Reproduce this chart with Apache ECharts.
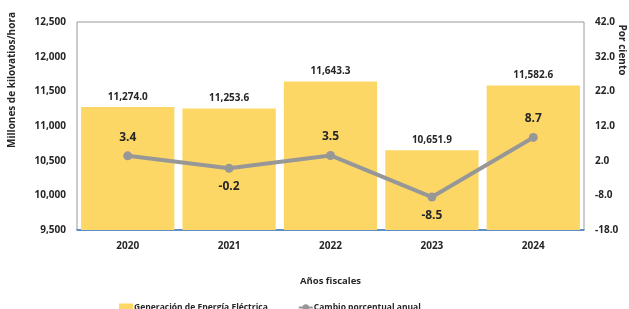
<!DOCTYPE html>
<html>
<head>
<meta charset="utf-8">
<script src="https://cdn.jsdelivr.net/npm/echarts@6/dist/echarts.min.js"></script>
<style>
  html, body { margin: 0; padding: 0; background: #fff; }
  #chart { width: 629px; height: 309px; }
</style>
</head>
<body>
<div id="chart"></div>
<script>
// datos
var years = ['2020', '2021', '2022', '2023', '2024']
var generacion = [11274.0, 11253.6, 11643.3, 10651.9, 11582.6]
var cambio = [3.4, -0.2, 3.5, -8.5, 8.7]
var cambioPos = ['top', 'bottom', 'top', 'bottom', 'top']   // donde va la etiqueta

var fuente = '"Open Sans", sans-serif'
var oscuro = '#262626'

var myChart = echarts.init(document.getElementById('chart'))

function fmtMiles(v) {
    return v.toLocaleString('en-US', {minimumFractionDigits: 1, maximumFractionDigits: 1})
}

option = {
    animation: false,
    textStyle: {fontFamily: fuente},
    grid: {
        left: 77,
        right: 45,
        top: 22,
        bottom: 79,
        show: true,
        borderColor: '#9a9a9a',
        borderWidth: 1
    },
    legend: {
        bottom: -8,
        left: 114,
        itemGap: 30,
        itemWidth: 14,
        itemHeight: 8,
        textStyle: {fontSize: 8.5, fontWeight: 'bold', color: oscuro, fontFamily: fuente, padding: [0, 0, 0, -4]},
        data: [
            {name: 'Generación de Energía Eléctrica', icon: 'rect'},
            {name: 'Cambio porcentual anual'}
        ]
    },
    xAxis: {
        type: 'category',
        data: years,
        name: 'Años fiscales',
        nameLocation: 'middle',
        nameGap: 46,
        nameTextStyle: {fontSize: 9.5, fontWeight: 'bold', color: oscuro},
        axisLine: {show: true, onZero: false, lineStyle: {color: '#3b7bc4', width: 1.5}},
        axisTick: {show: false},
        axisLabel: {fontSize: 10, fontWeight: 'bold', color: oscuro, margin: 11}
    },
    yAxis: [
        {
            type: 'value',
            min: 9500,
            max: 12500,
            interval: 500,
            axisLine: {show: false},
            axisTick: {show: false},
            splitLine: {show: false},
            axisLabel: {
                fontSize: 10, fontWeight: 'bold', color: oscuro, margin: 11,
                formatter: function (v) { return v.toLocaleString('en-US') }
            }
        },
        {
            type: 'value',
            min: -18,
            max: 42,
            interval: 10,
            axisLine: {show: false},
            axisTick: {show: false},
            splitLine: {show: false},
            axisLabel: {
                fontSize: 10, fontWeight: 'bold', color: oscuro, margin: 11,
                formatter: function (v) { return v.toFixed(1) }
            }
        }
    ],
    graphic: [
        {
            type: 'text',
            x: 12,
            y: 80,
            rotation: Math.PI / 2,
            style: {
                text: 'Millones de kilovatios/hora',
                fontSize: 10, fontWeight: 'bold', fill: oscuro, fontFamily: fuente,
                align: 'center', verticalAlign: 'middle'
            }
        },
        {
            type: 'text',
            x: 622,
            y: 50,
            rotation: -Math.PI / 2,
            style: {
                text: 'Por ciento',
                fontSize: 10, fontWeight: 'bold', fill: oscuro, fontFamily: fuente,
                align: 'center', verticalAlign: 'middle'
            }
        }
    ],
    series: [
        {
            name: 'Generación de Energía Eléctrica',
            type: 'bar',
            data: generacion,
            barCategoryGap: '8%',
            itemStyle: {color: '#fdd766'},
            label: {
                show: true,
                position: 'top',
                distance: 5,
                fontSize: 10,
                fontWeight: 'bold',
                color: oscuro,
                formatter: function (p) { return fmtMiles(p.value) }
            }
        },
        {
            name: 'Cambio porcentual anual',
            type: 'line',
            yAxisIndex: 1,
            data: cambio.map(function (v, i) {
                return {value: v, label: {position: cambioPos[i]}}
            }),
            symbol: 'circle',
            symbolSize: 9,
            lineStyle: {color: '#979797', width: 4},
            itemStyle: {color: '#979797'},
            label: {
                show: true,
                distance: 8,
                fontSize: 12,
                fontWeight: 'bold',
                color: oscuro,
                formatter: function (p) { return p.value.toFixed(1) }
            }
        }
    ]
}

myChart.setOption(option)
</script>
</body>
</html>
